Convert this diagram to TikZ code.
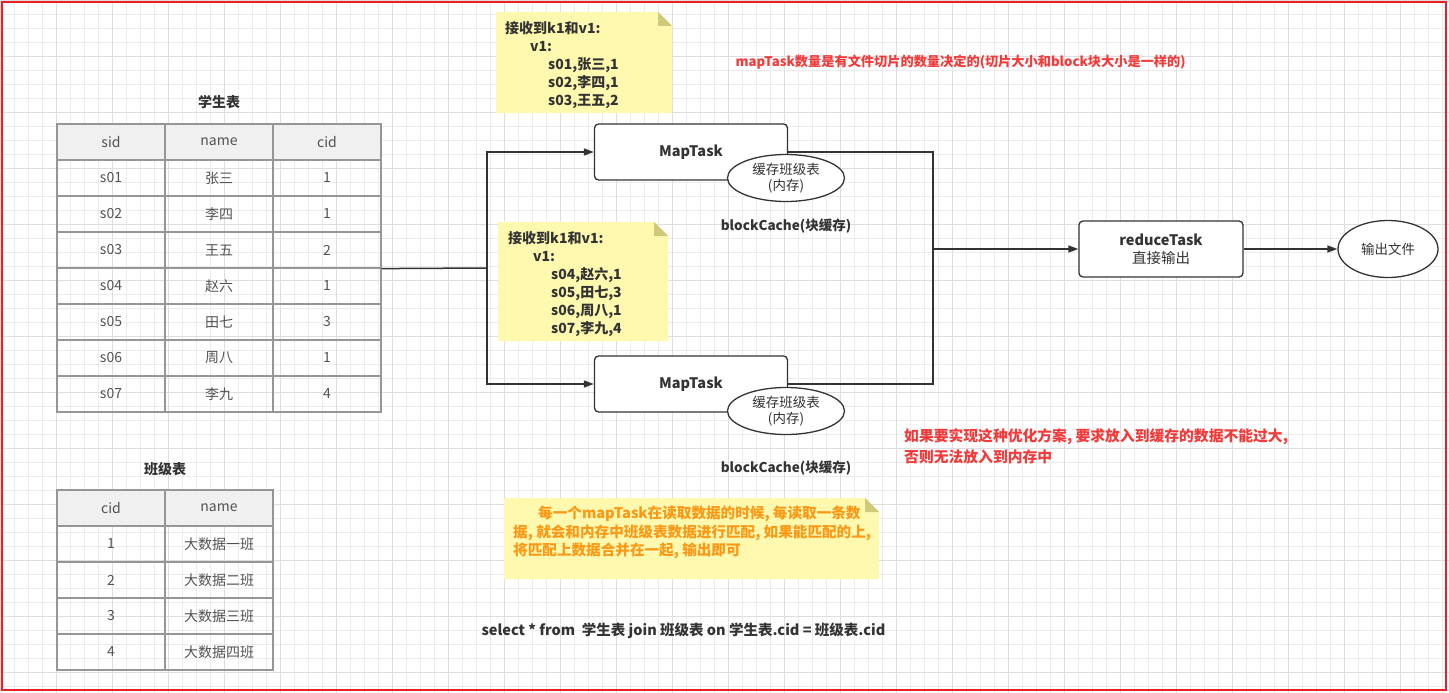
\documentclass[tikz,border=0pt]{standalone}
\usepackage{fontspec}
\setmainfont{Noto Sans CJK SC}
\usetikzlibrary{arrows.meta,shapes.geometric}
\definecolor{gridminor}{RGB}{236,236,236}
\definecolor{gridmajor}{RGB}{222,222,222}
\definecolor{frame}{RGB}{235,30,38}
\definecolor{ink}{RGB}{51,51,51}
\definecolor{cellline}{RGB}{150,150,150}
\definecolor{cellhead}{RGB}{240,240,240}
\definecolor{notebg}{RGB}{255,249,176}
\definecolor{notefold}{RGB}{206,202,120}
\definecolor{remark}{RGB}{242,58,58}
\definecolor{hint}{RGB}{252,152,20}
\newcommand{\bodyfont}{\fontsize{14}{18}\selectfont}
\begin{document}
\begin{tikzpicture}[x=1pt, y=-1pt,
  cell/.style={draw=cellline, line width=1.2pt, minimum width=108pt, minimum height=36pt, inner sep=0pt, text=ink!85, font=\bodyfont},
  headcell/.style={cell, fill=cellhead},
  title/.style={text=ink, font=\bodyfont\bfseries},
  task/.style={draw=ink, line width=1.3pt, rounded corners=4pt, fill=white, minimum width=193pt, minimum height=56pt, align=center, text=ink, font=\fontsize{14.5}{18}\selectfont},
  cache/.style={ellipse, draw=ink, line width=1.3pt, fill=white, minimum width=117pt, minimum height=47pt, inner sep=0pt, align=center, text=ink, font=\fontsize{13.5}{16.5}\selectfont},
  notetext/.style={anchor=north west, align=left, inner sep=0pt, text=ink, font=\bodyfont\bfseries},
  flow/.style={draw=ink, line width=1.5pt},
  arrow/.style={flow, -{Triangle[length=10pt,width=7pt]}}]
\useasboundingbox (0,0) rectangle (1449,693);
% background grid
\draw[gridminor, line width=0.8pt, step=14pt] (0,0) grid (1449,693);
\draw[gridmajor, line width=0.8pt, step=56pt] (0,0) grid (1449,693);
\draw[frame, line width=2pt] (2,2) rectangle (1446,690);

% student table
\node[title] (T_stu) at (219,102) {学生表};
\node[headcell] (S_0_0) at (111,142) {sid};
\node[headcell] (S_0_1) at (219,142) {name};
\node[headcell] (S_0_2) at (327,142) {cid};
\node[cell] (S_1_0) at (111,178) {s01};
\node[cell] (S_1_1) at (219,178) {张三};
\node[cell] (S_1_2) at (327,178) {1};
\node[cell] (S_2_0) at (111,214) {s02};
\node[cell] (S_2_1) at (219,214) {李四};
\node[cell] (S_2_2) at (327,214) {1};
\node[cell] (S_3_0) at (111,250) {s03};
\node[cell] (S_3_1) at (219,250) {王五};
\node[cell] (S_3_2) at (327,250) {2};
\node[cell] (S_4_0) at (111,286) {s04};
\node[cell] (S_4_1) at (219,286) {赵六};
\node[cell] (S_4_2) at (327,286) {1};
\node[cell] (S_5_0) at (111,322) {s05};
\node[cell] (S_5_1) at (219,322) {田七};
\node[cell] (S_5_2) at (327,322) {3};
\node[cell] (S_6_0) at (111,358) {s06};
\node[cell] (S_6_1) at (219,358) {周八};
\node[cell] (S_6_2) at (327,358) {1};
\node[cell] (S_7_0) at (111,394) {s07};
\node[cell] (S_7_1) at (219,394) {李九};
\node[cell] (S_7_2) at (327,394) {4};

% class table
\node[title] (T_cls) at (165,469) {班级表};
\node[headcell] (C_0_0) at (111,508) {cid};
\node[headcell] (C_0_1) at (219,508) {name};
\node[cell] (C_1_0) at (111,544) {1};
\node[cell] (C_1_1) at (219,544) {大数据一班};
\node[cell] (C_2_0) at (111,580) {2};
\node[cell] (C_2_1) at (219,580) {大数据二班};
\node[cell] (C_3_0) at (111,616) {3};
\node[cell] (C_3_1) at (219,616) {大数据三班};
\node[cell] (C_4_0) at (111,652) {4};
\node[cell] (C_4_1) at (219,652) {大数据四班};

% notes
\fill[notebg] (496,12) -- (658,12) -- (672,26) -- (672,113) -- (496,113) -- cycle;
\fill[notefold] (658,12) -- (658,26) -- (672,26) -- cycle;
\node[notetext] (note1) at (505,21) {接收到k1和v1:\\\hspace*{25pt}v1:\\\hspace*{43pt}s01,张三,1\\\hspace*{43pt}s02,李四,1\\\hspace*{43pt}s03,王五,2};
\fill[notebg] (498,222) -- (654,222) -- (668,236) -- (668,341) -- (498,341) -- cycle;
\fill[notefold] (654,222) -- (654,236) -- (668,236) -- cycle;
\node[notetext] (note2) at (508,231) {接收到k1和v1:\\\hspace*{25pt}v1:\\\hspace*{43pt}s04,赵六,1\\\hspace*{43pt}s05,田七,3\\\hspace*{43pt}s06,周八,1\\\hspace*{43pt}s07,李九,4};
\fill[notebg] (504,498) -- (865,498) -- (879,512) -- (879,579) -- (504,579) -- cycle;
\fill[notefold] (865,498) -- (865,512) -- (879,512) -- cycle;
\node[notetext, text=hint, font=\fontsize{14.6}{18.5}\selectfont\bfseries] (note3) at (513,506) {\hspace*{25pt}每一个mapTask在读取数据的时候, 每读取一条数\\据, 就会和内存中班级表数据进行匹配, 如果能匹配的上,\\将匹配上数据合并在一起, 输出即可};

% map side
\node[task] (map1) at (691,152) {\bfseries MapTask};
\node[cache] (cache1) at (786,178) {缓存班级表\\(内存)};
\node[title, font=\fontsize{13.5}{17}\selectfont\bfseries] (block1) at (786,226) {blockCache(块缓存)};
\node[task] (map2) at (691,384) {\bfseries MapTask};
\node[cache] (cache2) at (786,411) {缓存班级表\\(内存)};
\node[title, font=\fontsize{13.5}{17}\selectfont\bfseries] (block2) at (786,468) {blockCache(块缓存)};

% reduce side
\node[task, minimum width=164pt] (reduce) at (1161,249) {\textbf{reduceTask}\\直接输出};
\node[cache, minimum width=100pt, minimum height=57pt] (out) at (1388,249) {输出文件};

\coordinate (split) at (487,268);
\coordinate (merge) at (933,249);
\draw[flow] (S_3_2.south east) -- (split);
\draw[arrow] (split) |- (map1.west);
\draw[arrow] (split) |- (map2.west);
\draw[flow] (map1.east) -| (merge);
\draw[flow] (map2.east) -| (merge);
\draw[arrow] (merge) -- (reduce.west);
\draw[arrow] (reduce.east) -- (out.west);

% remarks
\node[anchor=west, text=remark, font=\fontsize{13.2}{16}\selectfont\bfseries] (count) at (732,62) {mapTask数量是有文件切片的数量决定的(切片大小和block块大小是一样的)};
\node[anchor=north west, align=left, inner sep=0pt, text=remark, font=\fontsize{14.8}{21}\selectfont\bfseries] (limit) at (904,428) {如果要实现这种优化方案, 要求放入到缓存的数据不能过大,\\否则无法放入到内存中};
\node[anchor=west, text=ink, font=\fontsize{14.5}{18}\selectfont\bfseries] (sql) at (478,631) {select * from\ \ 学生表 join 班级表 on 学生表.cid = 班级表.cid};
\end{tikzpicture}
\end{document}
